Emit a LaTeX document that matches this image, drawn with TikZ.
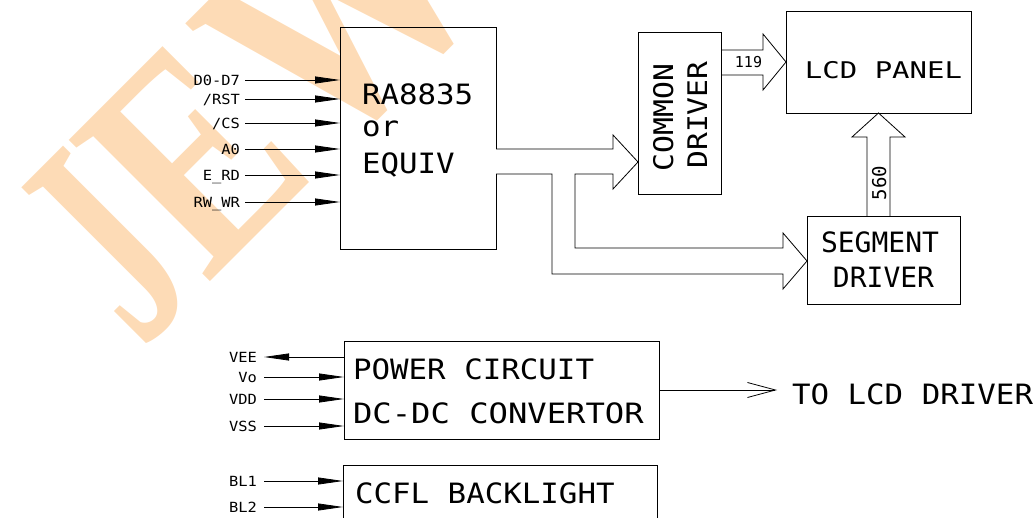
\documentclass[tikz,border=0pt]{standalone}
\usepackage{fontspec}
\usetikzlibrary{arrows.meta,calc}
\newfontfamily\cadA[FakeStretch=1.1]{DejaVu Sans Mono}
\newfontfamily\cadB{DejaVu Sans Mono}
\newfontfamily\cadC[FakeStretch=1.26]{DejaVu Sans Mono}
\newfontfamily\cadD[FakeStretch=1.15]{DejaVu Sans Mono}
\newfontfamily\wmfont{Liberation Serif Bold}
\definecolor{wmcol}{RGB}{253,219,182}
\begin{document}
\begin{tikzpicture}[x=1pt,y=-1pt,
  blk/.style={draw=black,line width=0.8pt,inner sep=0pt,outer sep=0pt},
  txt/.style={inner sep=0pt,outer sep=0pt,text depth=0pt},
  bigtxt/.style={txt,font=\cadA\fontsize{28}{28}\selectfont},
  lbl/.style={txt,font=\cadA\fontsize{14}{14}\selectfont,text height=10.2pt,anchor=east},
  inarr/.style={line width=0.8pt,-{Triangle[length=25pt,width=7pt]}},
  bus/.style={line width=0.8pt,line join=miter},
  wmk/.style={inner sep=0pt,outer sep=0pt,anchor=base west,rotate=45,text=wmcol,font=\wmfont\fontsize{305}{305}\selectfont},
]
\useasboundingbox (0,0) rectangle (1036,518);
% watermark
\node[wmk] (wmJ) at (141,351) {\scalebox{0.62}[1]{J}};
\node[wmk] (wmE) at (207.9,284.3) {\scalebox{0.78}[1]{E}};
\node[wmk] (wmW) at (324.6,167.6) {\scalebox{0.8}[1]{W}};

% boxes
\node[blk,draw=none,minimum width=156pt,minimum height=222pt] (ra) at (418,138) {};
\draw[line width=0.8pt] (ra.east |- 0,149) -- (ra.north east) -- (ra.north west) -- (ra.south west) -- (ra.south east) -- (ra.east |- 0,174);
\node[blk,minimum width=83pt,minimum height=162pt] (com) at (679.5,113) {};
\node[blk,minimum width=185pt,minimum height=102pt] (lcd) at (878.5,62) {};
\node[blk,minimum width=153pt,minimum height=88pt] (seg) at (883.5,260) {};
\node[blk,minimum width=315pt,minimum height=98pt] (pwr) at (501.5,390) {};
\node[blk,minimum width=314pt,minimum height=80pt] (ccfl) at (500,505) {};

% box texts
\node[bigtxt,anchor=base west] (raT1) at (362,105) {RA8835};
\node[bigtxt,anchor=base west] (raT2) at (362,137) {or};
\node[bigtxt,anchor=base west] (raT3) at (362,174) {EQUIV};
\node[txt,font=\cadA\fontsize{27}{27}\selectfont,rotate=90,anchor=base] (comT1) at (673,117.5) {COMMON};
\node[txt,font=\cadA\fontsize{27}{27}\selectfont,rotate=90,anchor=base] (comT2) at (707,115) {DRIVER};
\node[txt,font=\cadC\fontsize{23}{23}\selectfont,anchor=base] (lcdT) at (883.5,79) {LCD PANEL};
\node[txt,font=\cadB\fontsize{28}{28}\selectfont,anchor=base] (segT1) at (880,253) {SEGMENT};
\node[txt,font=\cadB\fontsize{28}{28}\selectfont,anchor=base] (segT2) at (883.5,288) {DRIVER};
\node[bigtxt,anchor=base west] (pwrT1) at (353,380) {POWER CIRCUIT};
\node[txt,font=\cadD\fontsize{28}{28}\selectfont,anchor=base west] (pwrT2) at (353,423) {DC-DC CONVERTOR};
\node[bigtxt,anchor=base west] (ccflT) at (355,503) {CCFL BACKLIGHT};
\node[bigtxt,anchor=base west] (tld) at (792,404) {TO LCD DRIVER};

% input labels
\node[lbl] (lD) at (240,80) {D0-D7};
\node[lbl] (lRST) at (240,99) {/RST};
\node[lbl] (lCS) at (240,123) {/CS};
\node[lbl] (lA) at (240,149) {A0};
\node[lbl] (lE) at (240,175) {E\_RD};
\node[lbl] (lRW) at (240,202) {RW\_WR};
\foreach \n in {lD,lRST,lCS,lA,lE,lRW}
  \draw[inarr] ([xshift=5pt]\n.east) -- (\n.east -| ra.west);

\node[lbl] (lVEE) at (257,357) {VEE};
\node[lbl] (lVo) at (257,377) {Vo};
\node[lbl] (lVDD) at (257,399) {VDD};
\node[lbl] (lVSS) at (257,426) {VSS};
\draw[inarr] (lVEE.east -| pwr.west) -- ([xshift=7pt]lVEE.east);
\foreach \n in {lVo,lVDD,lVSS}
  \draw[inarr] ([xshift=7pt]\n.east) -- (\n.east -| pwr.west);

\node[lbl] (lBL1) at (257,481) {BL1};
\node[lbl] (lBL2) at (257,507) {BL2};
\foreach \n in {lBL1,lBL2}
  \draw[inarr] ([xshift=7pt]\n.east) -- (\n.east -| ccfl.west);

% output to LCD driver
\draw[line width=0.8pt,shorten >=15pt,-{Straight Barb[length=28pt,width=15pt]}] (pwr.east) -- (tld.west |- pwr.east);

% main bus from controller
\draw[bus] (ra.east |- 0,149) -- (613,149) -- (613,135) -- (com.west |- 0,162)
  -- (613,189) -- (613,174) -- (575,174) -- (575,248) -- (783,248) -- (783,233)
  -- (seg.west |- 0,261) -- (783,289) -- (783,274) -- (552,274) -- (552,174)
  -- (ra.east |- 0,174);

% 119 bus
\draw[bus] ($(lcd.west)+(-65,-12)$) -- ++(42,0) -- ++(0,-16) -- (lcd.west)
  -- ($(lcd.west)+(-23,28)$) -- ++(0,-15) -- ++(-42,0);
\node[txt,font=\cadB\fontsize{15}{15}\selectfont,anchor=base] (n119) at (748.5,68) {119};

% 560 bus
\draw[bus] ($(lcd.south)+(-11.5,103)$) -- ++(0,-79) -- ++(-15,0) -- (lcd.south)
  -- ($(lcd.south)+(26.5,24)$) -- ++(-15,0) -- ++(0,79);
\node[txt,font=\cadB\fontsize{19}{19}\selectfont,rotate=90,anchor=base] (n560) at (886,183) {560};
\end{tikzpicture}
\end{document}
